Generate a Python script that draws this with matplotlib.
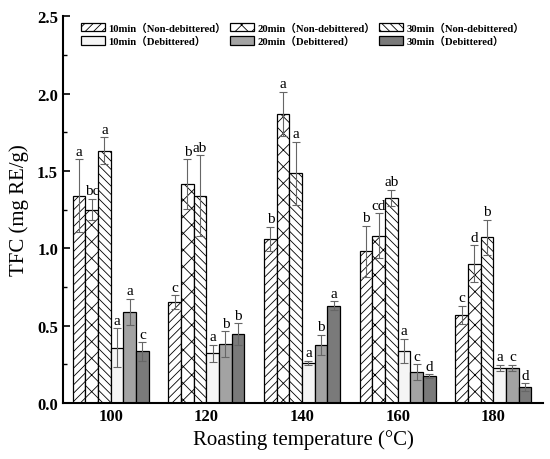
import numpy as np
import matplotlib
matplotlib.use('Agg')
from matplotlib import pyplot as plt
from matplotlib.ticker import MultipleLocator

plt.rcParams['font.family'] = ['Liberation Serif', 'Noto Sans CJK SC']
plt.rcParams['hatch.linewidth'] = 0.6
plt.rcParams['hatch.color'] = '#555555'

temps = [100, 120, 140, 160, 180]
labels = ['10min（Non-debittered）', '10min（Debittered）',
          '20min（Non-debittered）', '20min（Debittered）',
          '30min（Non-debittered）', '30min（Debittered）']

# series order: 10/20/30 min non-debittered, then 10/20/30 min debittered
non10 = [1.34, 0.65, 1.06, 0.98, 0.57]
non20 = [1.25, 1.415, 1.87, 1.08, 0.90]
non30 = [1.63, 1.34, 1.485, 1.325, 1.07]
deb10 = [0.357, 0.32, 0.258, 0.338, 0.226]
deb20 = [0.59, 0.38, 0.375, 0.198, 0.226]
deb30 = [0.334, 0.445, 0.63, 0.174, 0.101]

non10_err = [0.236, 0.045, 0.08, 0.165, 0.057]
non20_err = [0.07, 0.16, 0.143, 0.145, 0.118]
non30_err = [0.086, 0.26, 0.205, 0.053, 0.113]
deb10_err = [0.126, 0.057, 0.014, 0.078, 0.02]
deb20_err = [0.083, 0.084, 0.066, 0.052, 0.02]
deb30_err = [0.06, 0.071, 0.027, 0.011, 0.026]

non10_sig = ['a', 'c', 'b', 'b', 'c']
non20_sig = ['bc', 'b', 'a', 'cd', 'd']
non30_sig = ['a', 'ab', 'a', 'ab', 'b']
deb10_sig = ['a', 'a', 'a', 'a', 'a']
deb20_sig = ['a', 'b', 'b', 'c', 'c']
deb30_sig = ['c', 'b', 'a', 'd', 'd']

series = [non10, non20, non30, deb10, deb20, deb30]
errs = [non10_err, non20_err, non30_err, deb10_err, deb20_err, deb30_err]
sigs = [non10_sig, non20_sig, non30_sig, deb10_sig, deb20_sig, deb30_sig]
names = [labels[0], labels[2], labels[4], labels[1], labels[3], labels[5]]
colors = ['white', 'white', 'white', '#f5f5f5', '#a3a3a3', '#7a7a7a']
hatches = ['////', 'xx', '\\\\\\\\', None, None, None]

fig = plt.figure(figsize=(5.5, 4.6), dpi=100)
ax = fig.add_axes([0.1145, 0.1217, 0.873, 0.841])

x = np.array(temps, dtype=float)
width = 2.65
bars = []
for k in range(6):
    pos = x + (k - 2.5) * width
    b = ax.bar(pos, series[k], width, color=colors[k], hatch=hatches[k],
               edgecolor='black', linewidth=0.9, zorder=2)
    ax.errorbar(pos, series[k], yerr=errs[k], fmt='none', ecolor='#666666',
                elinewidth=0.8, capsize=3, capthick=0.8, zorder=3)
    for p, v, e, s in zip(pos, series[k], errs[k], sigs[k]):
        ax.text(p, v + e + 0.01, s, ha='center', va='bottom', fontsize=11)
    bars.append(b)

ax.set_xlim(90, 190.4)
ax.set_ylim(0, 2.5)
ax.set_xticks(temps)
ax.set_xticklabels([str(t) for t in temps])
ax.yaxis.set_major_locator(MultipleLocator(0.5))
ax.yaxis.set_minor_locator(MultipleLocator(0.25))
ax.yaxis.set_major_formatter(plt.FormatStrFormatter('%.1f'))

ax.spines['top'].set_visible(False)
ax.spines['right'].set_visible(False)
ax.spines['left'].set_linewidth(1.5)
ax.spines['bottom'].set_linewidth(1.5)
ax.tick_params(axis='both', which='major', direction='in', length=5, width=1.2,
               labelsize=12)
ax.tick_params(axis='y', which='minor', direction='in', length=3, width=1.0)
for lab in ax.get_xticklabels() + ax.get_yticklabels():
    lab.set_fontweight('bold')

ax.set_xlabel('Roasting temperature (°C)', fontsize=15, labelpad=4)
ax.set_ylabel('TFC (mg RE/g)', fontsize=15, labelpad=6)

order = [0, 3, 1, 4, 2, 5]
ax.legend([bars[i] for i in order], [names[i] for i in order], ncol=3,
          loc='upper left', bbox_to_anchor=(0.025, 1.0), frameon=False,
          prop={'size': 7.7, 'weight': 'bold'}, handlelength=2.2,
          handleheight=0.8, handletextpad=0.35, columnspacing=0.35,
          labelspacing=0.3, borderaxespad=0.2)

plt.savefig('out.png', dpi=100)
